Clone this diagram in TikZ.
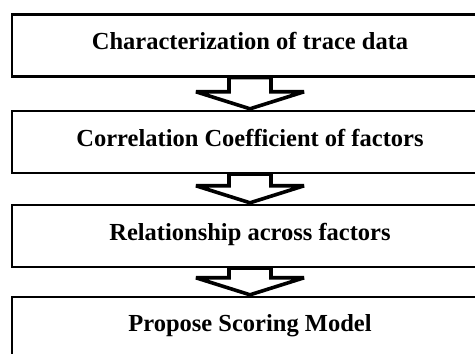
\documentclass[tikz,border=0pt]{standalone}
\usepackage{fontspec}
\setmainfont{Liberation Serif}
\usetikzlibrary{calc}

%% hollow block arrow between two stacked boxes
\newcommand{\stagearrow}[2]{%
  \draw[stagearrow] let \p1=(#1.south), \p2=(#2.north) in
    (\x1-21pt,\y1) -- (\x1-21pt,\y2+18pt) -- (\x1-54pt,\y2+18pt) -- (\x1,\y2+1pt)
    -- (\x1+54pt,\y2+18pt) -- (\x1+21pt,\y2+18pt) -- (\x1+21pt,\y1) -- cycle;}

\begin{document}
\begin{tikzpicture}[x=1pt, y=1pt,
    stagebox/.style={draw=black, line width=2.4pt, fill=white, minimum width=476pt, minimum height=62pt,
      inner sep=0pt, text depth=9pt, font=\fontsize{24.5}{29}\selectfont\bfseries},
    stagearrow/.style={draw=black, line width=3.6pt, fill=white, line join=miter, miter limit=4, xshift=4pt}]
  \useasboundingbox (0,0) rectangle (475,354);
  \clip (0,0) rectangle (475,354);

  %% the four stages
  \node[stagebox] (trace) at (250,308.5) {Characterization of trace data};
  \node[stagebox] (corr)  at (250,212)   {Correlation Coefficient of factors};
  \node[stagebox] (rel)   at (250,118)   {Relationship across factors};
  \node[stagebox] (score) at (250,26)    {Propose Scoring Model};

  %% arrows down the chain
  \stagearrow{trace}{corr}
  \stagearrow{corr}{rel}
  \stagearrow{rel}{score}
\end{tikzpicture}
\end{document}
